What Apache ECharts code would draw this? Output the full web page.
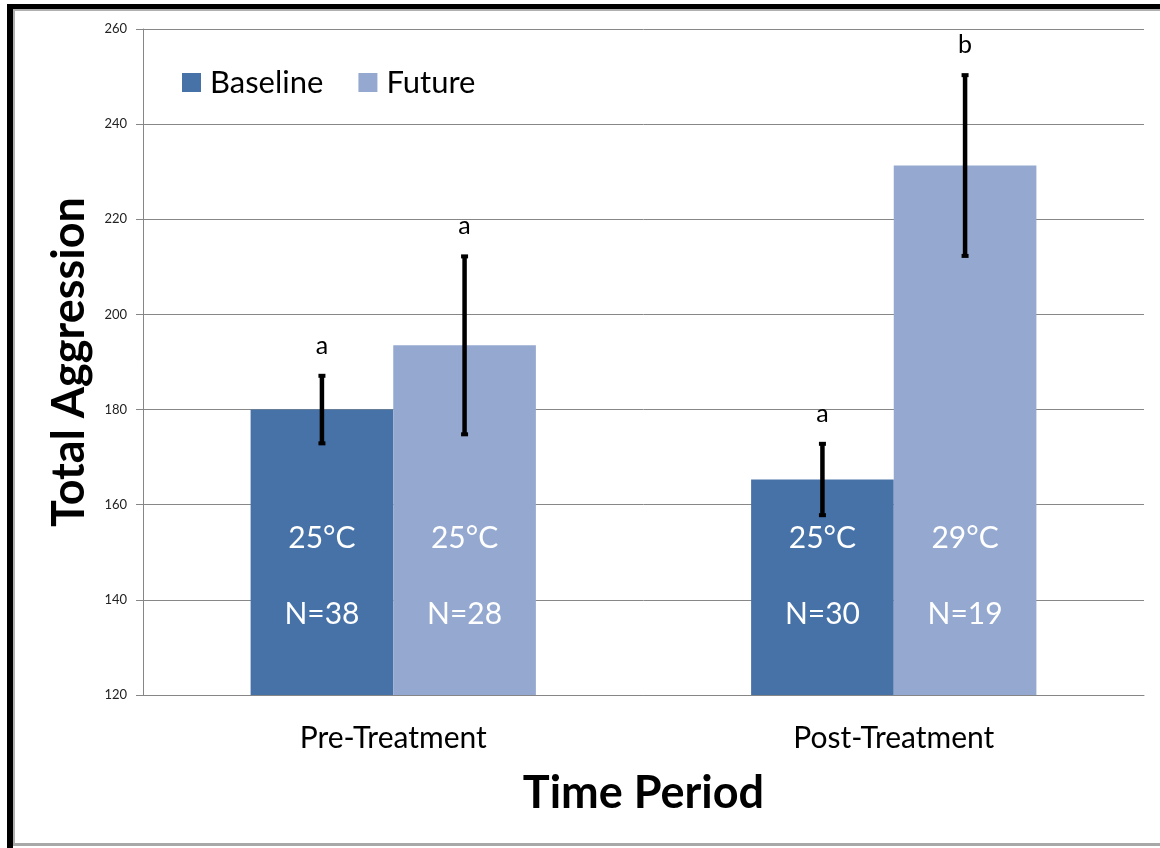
<!DOCTYPE html>
<html>
<head>
<meta charset="utf-8">
<script src="https://cdn.jsdelivr.net/npm/echarts@6/dist/echarts.min.js"></script>
<style>
  html, body { margin: 0; padding: 0; background: #fff; }
  #chart { width: 1160px; height: 848px; }
</style>
</head>
<body>
<div id="chart"></div>
<script>
// data
var periods = ["Pre-Treatment", "Post-Treatment"];
var baselineMean = [180, 165.3];
var futureMean = [193.5, 231.3];
var baselineErr = [7.1, 7.5];
var futureErr = [18.7, 19];
var baselineTemp = ["25°C", "25°C"];
var futureTemp = ["25°C", "29°C"];
var baselineN = ["N=38", "N=30"];
var futureN = ["N=28", "N=19"];
var baselineLetters = ["a", "a"];
var futureLetters = ["a", "b"];

var FONT = "Lato, 'Liberation Sans', sans-serif";
var BAR_W = 0.285;

function errData(mean, err) {
  return mean.map(function (m, i) {
    return [i, m - err[i], m + err[i]];
  });
}

function errRender(side, letters) {
  return function (params, api) {
    var c = api.value(0);
    var lo = api.coord([c, api.value(1)]);
    var hi = api.coord([c, api.value(2)]);
    var bw = api.size([1, 0])[0] * BAR_W;
    var x = lo[0] + side * bw / 2;
    var capStyle = { fill: "#000" };
    return {
      type: "group",
      children: [
        { type: "line", shape: { x1: x, y1: lo[1], x2: x, y2: hi[1] },
          style: { stroke: "#000", lineWidth: 4.5 } },
        { type: "rect", shape: { x: x - 3.5, y: hi[1] - 2, width: 7, height: 4 }, style: capStyle },
        { type: "rect", shape: { x: x - 3.5, y: lo[1] - 2, width: 7, height: 4 }, style: capStyle },
        { type: "text", x: x, y: hi[1] - 30,
          style: { text: letters[params.dataIndex], fill: "#000", font: "25px " + FONT,
                   align: "center", verticalAlign: "middle" } }
      ]
    };
  };
}

function insideLabel(temps, ns) {
  return {
    show: true,
    position: "insideBottom",
    distance: 43,
    color: "#fff",
    fontFamily: FONT,
    fontSize: 30,
    lineHeight: 76,
    formatter: function (p) { return temps[p.dataIndex] + "\n" + ns[p.dataIndex]; }
  };
}

var chart = echarts.init(document.getElementById("chart"));
chart.setOption({
  animation: false,
  backgroundColor: "#fff",
  grid: { left: 143, right: 16, top: 29, bottom: 153 },
  legend: {
    left: 177, top: 62,
    itemWidth: 19, itemHeight: 19, itemGap: 35,
    icon: "rect",
    textStyle: { fontFamily: FONT, fontSize: 31, color: "#000", padding: [0, 0, 0, 4] },
    data: ["Baseline", "Future"]
  },
  xAxis: {
    type: "category",
    data: periods,
    name: "Time Period",
    nameLocation: "middle",
    nameGap: 76,
    nameTextStyle: { fontFamily: FONT, fontSize: 45, fontWeight: "bold", color: "#000" },
    axisLine: { lineStyle: { color: "#868686" } },
    axisTick: { length: 9, lineStyle: { color: "#868686" } },
    axisLabel: { fontFamily: FONT, fontSize: 30, color: "#000", margin: 28 }
  },
  yAxis: {
    type: "value",
    min: 120, max: 260, interval: 20,
    name: "Total Aggression",
    nameLocation: "middle",
    nameGap: 51,
    nameTextStyle: { fontFamily: FONT, fontSize: 45, fontWeight: "bold", color: "#000" },
    axisLine: { show: true, lineStyle: { color: "#868686" } },
    axisTick: { show: true, length: 7, lineStyle: { color: "#868686" } },
    axisLabel: { fontFamily: FONT, fontSize: 13, color: "#222", margin: 16 },
    splitLine: { lineStyle: { color: "#878787", width: 1 } }
  },
  series: [
    {
      name: "Baseline", type: "bar", data: baselineMean,
      barWidth: (BAR_W * 100) + "%", barGap: "0%",
      itemStyle: { color: "#4672A8" },
      label: insideLabel(baselineTemp, baselineN)
    },
    {
      name: "Future", type: "bar", data: futureMean,
      barWidth: (BAR_W * 100) + "%",
      itemStyle: { color: "#95A9D0" },
      label: insideLabel(futureTemp, futureN)
    },
    {
      type: "custom", z: 10,
      data: errData(baselineMean, baselineErr),
      encode: { x: 0, y: [1, 2] },
      renderItem: errRender(-1, baselineLetters)
    },
    {
      type: "custom", z: 10,
      data: errData(futureMean, futureErr),
      encode: { x: 0, y: [1, 2] },
      renderItem: errRender(1, futureLetters)
    }
  ],
  graphic: [
    // frame round the picture
    { type: "rect", shape: { x: 7, y: 4, width: 6, height: 844 }, style: { fill: "#000" } },
    { type: "rect", shape: { x: 7, y: 4, width: 1153, height: 5 }, style: { fill: "#000" } },
    { type: "rect", shape: { x: 13, y: 9, width: 2, height: 837 }, style: { fill: "#b0b0b0" } },
    { type: "rect", shape: { x: 13, y: 9, width: 1147, height: 2 }, style: { fill: "#b0b0b0" } },
    { type: "rect", shape: { x: 13, y: 843, width: 1147, height: 3 }, style: { fill: "#a8a8a8" } }
  ]
});
</script>
</body>
</html>
